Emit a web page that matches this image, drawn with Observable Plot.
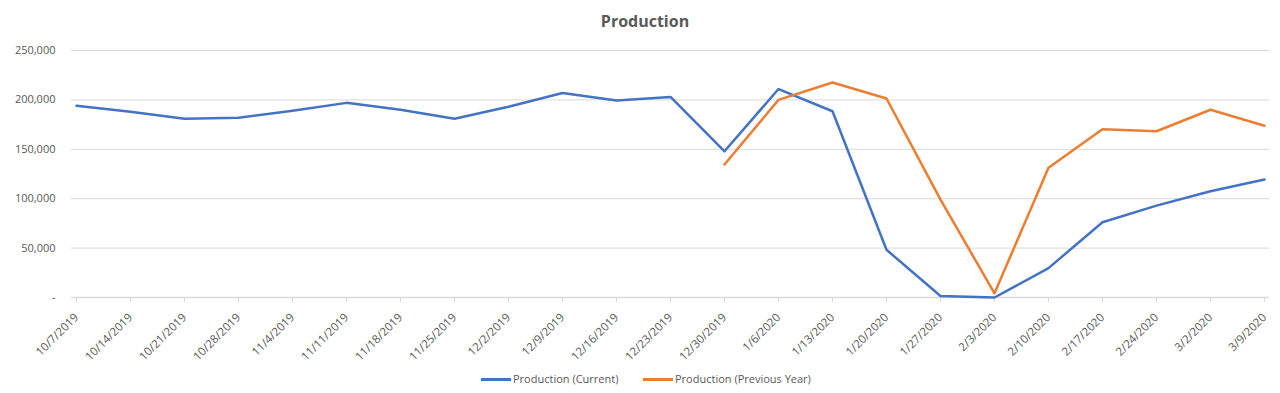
<!DOCTYPE html>
<html>
<head>
<meta charset="utf-8">
<script src="https://cdn.jsdelivr.net/npm/d3@7"></script>
<script src="https://cdn.jsdelivr.net/npm/@observablehq/plot@0.6"></script>
<style>
  body { margin: 0; background: #fff; font-family: "Open Sans", sans-serif; }
  #title { height: 38px; width: 1280px; position: relative; }
  #title span { position: absolute; left: 0; width: 1290px; text-align: center; top: 10px; font-size: 16px; font-weight: bold; color: #595959; }
  #legend { position: relative; width: 1280px; height: 30px; font-size: 11px; color: #595959; }
  .sw { position: absolute; height: 3px; width: 30px; top: 15px; }
  .lb { position: absolute; top: 8px; }
</style>
</head>
<body>
<div id="title"><span>Production</span></div>
<div id="chart"></div>
<div id="legend"></div>
<script>
const dates = ["10/7/2019","10/14/2019","10/21/2019","10/28/2019","11/4/2019","11/11/2019","11/18/2019","11/25/2019","12/2/2019","12/9/2019","12/16/2019","12/23/2019","12/30/2019","1/6/2020","1/13/2020","1/20/2020","1/27/2020","2/3/2020","2/10/2020","2/17/2020","2/24/2020","3/2/2020","3/9/2020"];
const current = [194000,188000,181000,182000,189000,197000,190000,181000,193000,207000,199500,203000,148000,211000,188500,48300,1500,0,29700,76200,93000,107600,119400];
const previous = [null,null,null,null,null,null,null,null,null,null,null,null,134600,200000,217600,201400,99000,4300,131300,170300,168300,190000,173800];
const yTicks = [0,50000,100000,150000,200000,250000];
const seriesNames = ["Production (Current)","Production (Previous Year)"];
const colors = ["#4472C4","#ED7D31"];

const rows = [];
dates.forEach((d,i) => {
  rows.push({date:d, value:current[i], series:seriesNames[0]});
  if (previous[i] != null) rows.push({date:d, value:previous[i], series:seriesNames[1]});
});

const fmt = v => v === 0 ? "-" : d3.format(",")(v);

const chart = Plot.plot({
  width: 1280,
  height: 325,
  marginLeft: 71,
  marginRight: 11,
  marginTop: 12,
  marginBottom: 66,
  style: {fontFamily: "Open Sans, sans-serif", fontSize: "11px", color: "#595959", background: "#fff"},
  x: {type: "point", domain: dates, padding: 0, label: null},
  y: {domain: [0, 250000], label: null},
  color: {domain: seriesNames, range: colors},
  marks: [
    Plot.gridY(yTicks, {stroke: "#d9d9d9", strokeOpacity: 1}),
    Plot.axisY(yTicks, {tickSize: 0, tickPadding: 16, tickFormat: fmt, fontSize: 11, fill: "#595959"}),
    Plot.ruleY([0], {stroke: "#d9d9d9", strokeWidth: 1.5}),
    Plot.axisX({tickSize: 5, stroke: "#d9d9d9", text: null}),
    Plot.axisX({tickSize: 0, tickRotate: -45, tickPadding: 18, fontSize: 11.5, fill: "#595959"}),
    Plot.line(rows, {x: "date", y: "value", z: "series", stroke: "series", strokeWidth: 2.5, strokeLinejoin: "round"})
  ]
});
document.getElementById("chart").appendChild(chart);

const legend = document.getElementById("legend");
const pos = [[481, 513], [643, 675]];
seriesNames.forEach((n,i) => {
  const s = document.createElement("div");
  s.className = "sw"; s.style.left = pos[i][0] + "px"; s.style.background = colors[i];
  legend.appendChild(s);
  const l = document.createElement("div");
  l.className = "lb"; l.style.left = pos[i][1] + "px"; l.textContent = n;
  legend.appendChild(l);
});
</script>
</body>
</html>
